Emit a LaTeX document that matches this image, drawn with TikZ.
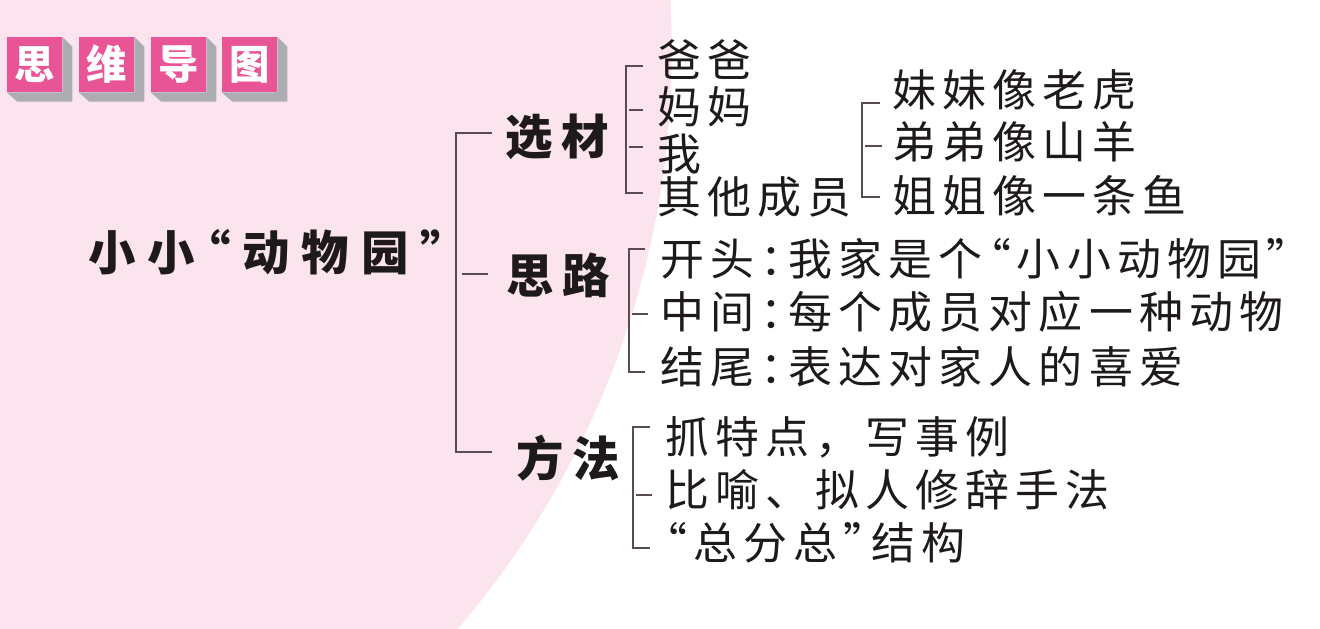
\documentclass[tikz,border=0pt]{standalone}
\usepackage{fontspec}
\usepackage{xcolor}
\usepackage{tikz}
\usetikzlibrary{positioning,calc}
\newfontfamily\cjkbase{Noto Sans CJK SC}
\newfontfamily\cjkleaf[LetterSpace=14,CharacterWidth=AlternateProportional]{Noto Sans CJK SC}
\newfontfamily\cjkleafwide[LetterSpace=14]{Noto Sans CJK SC}
\newfontfamily\cjkhead[LetterSpace=19,CharacterWidth=AlternateProportional]{Noto Sans CJK SC}
\newfontfamily\cjkroot[LetterSpace=25,CharacterWidth=AlternateProportional]{Noto Sans CJK SC}
\definecolor{pinkbg}{RGB}{251,228,237}
\definecolor{tpink}{RGB}{233,84,150}
\definecolor{tshadow}{RGB}{172,172,178}
\definecolor{ink}{RGB}{30,26,28}
\definecolor{brline}{RGB}{88,76,82}

\begin{document}
\begin{tikzpicture}[x=0.02cm,y=-0.02cm,
  every node/.style={inner sep=0pt,text=ink},
  tbox/.style={fill=tpink,minimum size=1.1cm,text=white,font=\cjkbase\bfseries\fontsize{23}{26}\selectfont},
  tshade/.style={fill=tshadow},
  rootnode/.style={anchor=west,font=\cjkroot\bfseries\fontsize{27}{32}\selectfont},
  headnode/.style={anchor=west,font=\cjkhead\bfseries\fontsize{27}{32}\selectfont},
  leafnode/.style={anchor=west,font=\cjkleaf\fontsize{25}{30}\selectfont},
  wideleaf/.style={leafnode,font=\cjkleafwide\fontsize{25}{30}\selectfont},
  brk/.style={draw=brline,line width=1.1pt},
  sbrk/.style={draw=brline,line width=0.8pt}
]
\useasboundingbox (0,0) rectangle (1320,629);
% pink disc behind the left half
\begin{scope}
  \clip (0,0) rectangle (1320,629);
  \fill[pinkbg] (-218,50) circle[radius=17.8cm];
\end{scope}

% title blocks
\node[tbox] (t1) at (34.5,64.5) {思};
\node[tbox] (t2) at (106.5,64.5) {维};
\node[tbox] (t3) at (178.5,64.5) {导};
\node[tbox] (t4) at (249.5,64.5) {图};
\fill[tshade] (t1.north east) -- ++(10,10) -- ++(0,55) -- ++(-55,0) -- (t1.south west) -- (t1.south east) -- cycle;
\fill[tshade] (t2.north east) -- ++(10,10) -- ++(0,55) -- ++(-55,0) -- (t2.south west) -- (t2.south east) -- cycle;
\fill[tshade] (t3.north east) -- ++(10,10) -- ++(0,55) -- ++(-55,0) -- (t3.south west) -- (t3.south east) -- cycle;
\fill[tshade] (t4.north east) -- ++(10,10) -- ++(0,55) -- ++(-55,0) -- (t4.south west) -- (t4.south east) -- cycle;

% root and branches
\node[rootnode] (zoo) at (88,252) {小小“动物园”};
\node[headnode] (xuancai) at (505,137) {选材};
\node[headnode] (silu) at (506,275) {思路};
\node[headnode] (fangfa) at (516,458) {方法};

% leaves
\node[leafnode] (baba) at (657,60) {爸爸};
\node[leafnode] (mama) at (657,107) {妈妈};
\node[leafnode] (wo) at (657,154) {我};
\node[leafnode] (qita) at (657,197) {其他成员};
\node[leafnode] (meimei) at (892,90) {妹妹像老虎};
\node[leafnode] (didi) at (892,142) {弟弟像山羊};
\node[leafnode] (jiejie) at (892,196) {姐姐像一条鱼};
\node[leafnode] (kaitou) at (660,259) {开头：我家是个“小小动物园”};
\node[leafnode] (zhongjian) at (660,312) {中间：每个成员对应一种动物};
\node[leafnode] (jiewei) at (660,367) {结尾：表达对家人的喜爱};
\node[wideleaf] (zhua) at (665,437) {抓特点，写事例};
\node[wideleaf] (biyu) at (665,490) {比喻、拟人修辞手法};
\node[leafnode] (zong) at (665,543) {“总分总”结构};

% bracket corners
\coordinate (mA) at (492,133);
\coordinate (mB) at (456,452);
\coordinate (mC) at (492,452);
\coordinate (mD) at (462,274);
\coordinate (mE) at (488,274);
\coordinate (xA) at (643,66);
\coordinate (xB) at (626,193);
\coordinate (xC) at (643,193);
\coordinate (xD) at (629,110);
\coordinate (xE) at (643,110);
\coordinate (xF) at (629,147);
\coordinate (xG) at (643,147);
\coordinate (qA) at (880,103);
\coordinate (qB) at (862,197);
\coordinate (qC) at (880,197);
\coordinate (qD) at (865,146);
\coordinate (qE) at (882,146);
\coordinate (sA) at (645,249);
\coordinate (sB) at (629,372);
\coordinate (sC) at (645,372);
\coordinate (sD) at (632,314);
\coordinate (sE) at (648,314);
\coordinate (fA) at (650,427);
\coordinate (fB) at (633,548);
\coordinate (fC) at (650,548);
\coordinate (fD) at (636,495);
\coordinate (fE) at (652,495);

\draw[brk] (mA) -| (mB) -- (mC);
\draw[brk] (mD) -- (mE);
\draw[sbrk] (xA) -| (xB) -- (xC);
\draw[sbrk] (xD) -- (xE);
\draw[sbrk] (xF) -- (xG);
\draw[sbrk] (qA) -| (qB) -- (qC);
\draw[sbrk] (qD) -- (qE);
\draw[sbrk] (sA) -| (sB) -- (sC);
\draw[sbrk] (sD) -- (sE);
\draw[sbrk] (fA) -| (fB) -- (fC);
\draw[sbrk] (fD) -- (fE);
\end{tikzpicture}
\end{document}
